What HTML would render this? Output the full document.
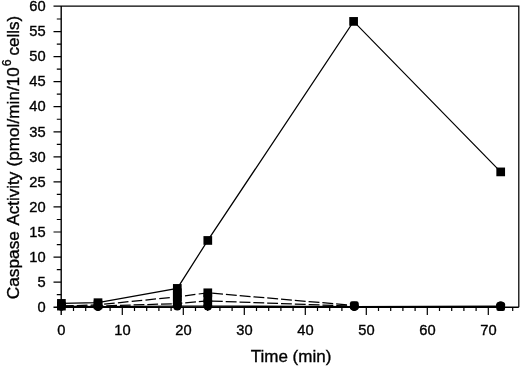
<!DOCTYPE html><html><head><meta charset="utf-8"><title>Caspase Activity</title>
<style>html,body{margin:0;padding:0;background:#fff}svg{display:block}text{font-family:"Liberation Sans",Arial,Helvetica,sans-serif;fill:#000;stroke:#000;stroke-width:0.35px}</style></head><body>
<svg width="520" height="367" viewBox="0 0 520 367">
<rect width="520" height="367" fill="#fff"/>
<g stroke="#000" stroke-width="1.4" fill="none">
<path d="M53.5 6.0H518.8V307.2" stroke-width="1.25"/>
<path d="M61.2 6.0V314.9"/>
<path d="M53.5 307.2H518.8"/>
</g>
<g stroke="#000" stroke-width="1.2" fill="none">
<path d="M56.8 294.67H61.2M53.5 282.14H61.2M56.8 269.61H61.2M53.5 257.08H61.2M56.8 244.55H61.2M53.5 232.02H61.2M56.8 219.49H61.2M53.5 206.96H61.2M56.8 194.43H61.2M53.5 181.90H61.2M56.8 169.37H61.2M53.5 156.84H61.2M56.8 144.31H61.2M53.5 131.78H61.2M56.8 119.25H61.2M53.5 106.72H61.2M56.8 94.19H61.2M53.5 81.66H61.2M56.8 69.13H61.2M53.5 56.60H61.2M56.8 44.07H61.2M53.5 31.54H61.2M56.8 19.01H61.2"/>
<path d="M73.50 307.2V310.9M85.70 307.2V310.9M97.90 307.2V310.9M110.10 307.2V310.9M122.30 307.2V314.9M134.50 307.2V310.9M146.70 307.2V310.9M158.90 307.2V310.9M171.10 307.2V310.9M183.30 307.2V314.9M195.50 307.2V310.9M207.70 307.2V310.9M219.90 307.2V310.9M232.10 307.2V310.9M244.30 307.2V314.9M256.50 307.2V310.9M268.70 307.2V310.9M280.90 307.2V310.9M293.10 307.2V310.9M305.30 307.2V314.9M317.50 307.2V310.9M329.70 307.2V310.9M341.90 307.2V310.9M354.10 307.2V310.9M366.30 307.2V314.9M378.50 307.2V310.9M390.70 307.2V310.9M402.90 307.2V310.9M415.10 307.2V310.9M427.30 307.2V314.9M439.50 307.2V310.9M451.70 307.2V310.9M463.90 307.2V310.9M476.10 307.2V310.9M488.30 307.2V314.9M500.50 307.2V310.9M512.70 307.2V310.9"/>
</g>
<g font-size="14.7" text-anchor="end">
<text x="45.7" y="311.9">0</text>
<text x="45.7" y="286.8">5</text>
<text x="45.7" y="261.8">10</text>
<text x="45.7" y="236.7">15</text>
<text x="45.7" y="211.7">20</text>
<text x="45.7" y="186.6">25</text>
<text x="45.7" y="161.5">30</text>
<text x="45.7" y="136.5">35</text>
<text x="45.7" y="111.4">40</text>
<text x="45.7" y="86.4">45</text>
<text x="45.7" y="61.3">50</text>
<text x="45.7" y="36.2">55</text>
<text x="45.7" y="10.8">60</text>
</g>
<g font-size="14.7" text-anchor="middle">
<text x="61.4" y="335.2">0</text>
<text x="122.4" y="335.2">10</text>
<text x="183.4" y="335.2">20</text>
<text x="244.4" y="335.2">30</text>
<text x="305.4" y="335.2">40</text>
<text x="366.4" y="335.2">50</text>
<text x="427.4" y="335.2">60</text>
<text x="488.4" y="335.2">70</text>
</g>
<text x="291" y="362.3" font-size="17" text-anchor="middle">Time (min)</text>
<text transform="translate(19.1 299.3) rotate(-90)" font-size="17"><tspan x="0" font-size="17.3">Caspase</tspan> <tspan x="73.8">Activity</tspan> <tspan x="132.8" letter-spacing="0.09">(pmol/min/10</tspan><tspan font-size="12.4" x="233" dy="-8.2">6</tspan> <tspan x="243.8" dy="8.2">cells)</tspan></text>
<g stroke="#000" stroke-width="1.25" fill="none">
<polyline points="61.4,303.4 98.0,302.7 177.3,288.4 207.8,240.4 353.6,21.4 500.7,171.9"/>
<line x1="61.4" y1="306.1" x2="98.0" y2="304.8" stroke-dasharray="10.6 3.25" stroke-dashoffset="12.25"/>
<line x1="98.0" y1="304.8" x2="177.3" y2="296.8" stroke-dasharray="10.6 3.25" stroke-dashoffset="7.70"/>
<line x1="177.3" y1="296.8" x2="207.8" y2="292.8" stroke-dasharray="10.5 3.3" stroke-dashoffset="6.04"/>
<line x1="207.8" y1="292.8" x2="354.3" y2="305.5" stroke-dasharray="10.9 2.93" stroke-dashoffset="9.49"/>
<line x1="61.4" y1="306.0" x2="98.0" y2="306.0" stroke-dasharray="10.8 2.9" stroke-dashoffset="12.10"/>
<line x1="98.0" y1="306.0" x2="177.3" y2="303.6" stroke-dasharray="10.8 2.9" stroke-dashoffset="5.48"/>
<line x1="177.3" y1="303.6" x2="207.8" y2="300.9" stroke-dasharray="10.8 2.9" stroke-dashoffset="5.77"/>
<line x1="207.8" y1="300.9" x2="354.3" y2="306.2" stroke-dasharray="10.9 2.93" stroke-dashoffset="9.75"/>
<polyline points="61.4,306.2 98.0,306.6 177.3,306.1 207.8,306.1 354.3,306.6 500.7,306.2" stroke-width="1.4"/>
</g>
<g fill="#000">
<rect x="57.05" y="299.05" width="8.7" height="8.7"/>
<rect x="93.65" y="298.35" width="8.7" height="8.7"/>
<rect x="172.95" y="284.05" width="8.7" height="8.7"/>
<rect x="203.45" y="236.10" width="8.7" height="8.7"/>
<rect x="349.25" y="17.05" width="8.7" height="8.7"/>
<rect x="496.35" y="167.55" width="8.7" height="8.7"/>
<rect x="57.05" y="301.75" width="8.7" height="8.7"/>
<rect x="93.65" y="300.45" width="8.7" height="8.7"/>
<rect x="172.95" y="292.40" width="8.7" height="8.7"/>
<rect x="203.45" y="288.45" width="8.7" height="8.7"/>
<rect x="349.95" y="301.15" width="8.7" height="8.7" rx="2"/>
<rect x="496.35" y="302.30" width="8.7" height="8.7" rx="2"/>
<circle cx="61.4" cy="306.0" r="4.45"/>
<circle cx="98.0" cy="306.0" r="4.45"/>
<circle cx="177.3" cy="303.6" r="4.45"/>
<circle cx="207.8" cy="300.9" r="4.45"/>
<circle cx="354.3" cy="306.2" r="4.45"/>
<circle cx="500.7" cy="305.9" r="4.45"/>
<circle cx="61.4" cy="306.2" r="4.45"/>
<circle cx="98.0" cy="306.6" r="4.45"/>
<circle cx="177.3" cy="306.1" r="4.45"/>
<circle cx="207.8" cy="306.1" r="4.45"/>
<circle cx="354.3" cy="306.6" r="4.45"/>
<circle cx="500.7" cy="305.9" r="4.45"/>
</g>
<rect x="172.95" y="288.4" width="8.7" height="17.7" fill="#000"/>
<rect x="203.45" y="292.8" width="8.7" height="13.3" fill="#000"/>
</svg></body></html>
